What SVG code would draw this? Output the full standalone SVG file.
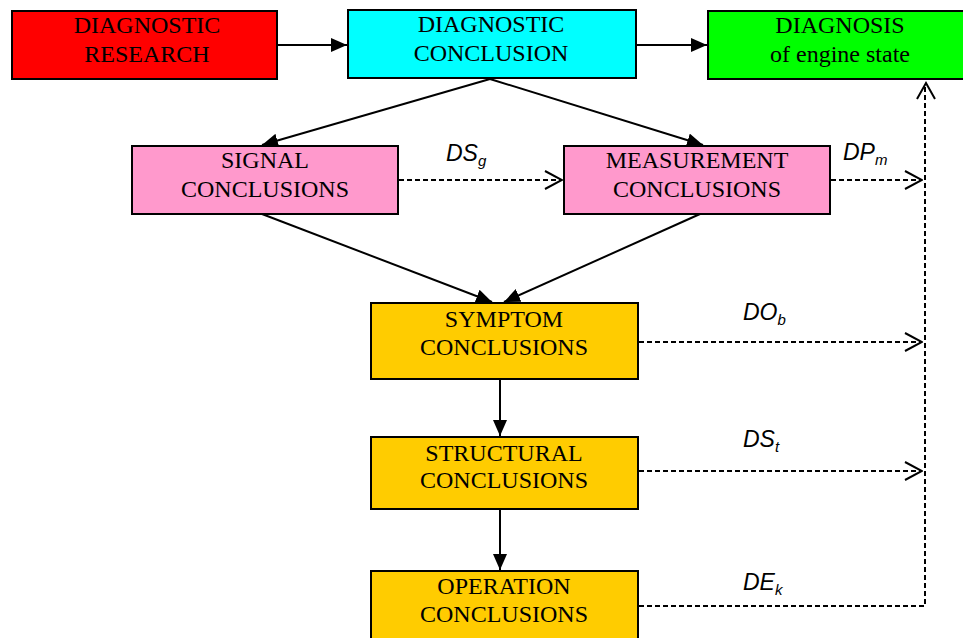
<svg xmlns="http://www.w3.org/2000/svg" width="963" height="638" viewBox="0 0 963 638">
<defs>
<style>
.box{stroke:#000;stroke-width:2}
.t{font-family:"Liberation Serif","Times New Roman",serif;font-size:24px;text-anchor:middle;fill:#000}
.lbl{font-family:"Liberation Sans",Arial,sans-serif;font-size:23px;font-style:italic;fill:#000}
.sub{font-size:15px}
.solid{stroke:#000;stroke-width:2;fill:none;marker-end:url(#ah)}
.dash{stroke:#000;stroke-width:2;fill:none;stroke-dasharray:5 3}
.dashA{stroke:#000;stroke-width:2;fill:none;stroke-dasharray:5 3;marker-end:url(#oh)}
</style>
<marker id="ah" viewBox="0 0 16 14" refX="16" refY="7" markerWidth="16" markerHeight="14" markerUnits="userSpaceOnUse" orient="auto">
<path d="M0,0 L16,7 L0,14 Z" fill="#000"/>
</marker>
<marker id="oh" viewBox="0 0 20 20" refX="19" refY="10" markerWidth="20" markerHeight="20" markerUnits="userSpaceOnUse" orient="auto">
<path d="M2,1 L19,10 L2,19" fill="none" stroke="#000" stroke-width="2"/>
</marker>
</defs>
<rect width="963" height="638" fill="#fff"/>

<g id="connectors">
<line class="solid" x1="278" y1="45" x2="347" y2="45"/>
<line class="solid" x1="636" y1="45" x2="707" y2="45"/>
<line class="solid" x1="490" y1="79" x2="262" y2="145"/>
<line class="solid" x1="490" y1="79" x2="703" y2="145"/>
<line class="solid" x1="262" y1="214" x2="492" y2="302"/>
<line class="solid" x1="700" y1="214" x2="504" y2="302"/>
<line class="solid" x1="500" y1="379" x2="500" y2="436"/>
<line class="solid" x1="500" y1="509" x2="500" y2="570"/>
<line class="dashA" x1="399" y1="180" x2="562" y2="180"/>
<line class="dashA" x1="831" y1="180" x2="922" y2="180"/>
<line class="dashA" x1="639" y1="342" x2="922" y2="342"/>
<line class="dashA" x1="639" y1="471" x2="922" y2="471"/>
<polyline class="dash" points="639,606 925,606 925,86"/>
<path d="M917,99 L926,83 L935,99" fill="none" stroke="#000" stroke-width="2"/>
<text class="lbl" x="446" y="161">DS<tspan class="sub" dy="5">g</tspan></text>
<text class="lbl" x="843" y="160">DP<tspan class="sub" dy="5">m</tspan></text>
<text class="lbl" x="743" y="320">DO<tspan class="sub" dy="5">b</tspan></text>
<text class="lbl" x="743" y="447">DS<tspan class="sub" dy="5">t</tspan></text>
<text class="lbl" x="743" y="590">DE<tspan class="sub" dy="5">k</tspan></text>
</g>

<g id="research">
<rect class="box" x="12" y="11" width="265" height="68" fill="#FF0000"/>
<text class="t" x="147" y="33">DIAGNOSTIC</text>
<text class="t" x="147" y="62">RESEARCH</text>
</g>
<g id="conclusion">
<rect class="box" x="348" y="10" width="288" height="68" fill="#00FFFF"/>
<text class="t" x="491" y="32">DIAGNOSTIC</text>
<text class="t" x="491" y="61">CONCLUSION</text>
</g>
<g id="diagnosis">
<rect class="box" x="708" y="11" width="262" height="68" fill="#00FF00"/>
<text class="t" x="840" y="33">DIAGNOSIS</text>
<text class="t" x="840" y="62">of engine state</text>
</g>
<g id="signal">
<rect class="box" x="132" y="146" width="266" height="68" fill="#FF99CC"/>
<text class="t" x="265" y="168">SIGNAL</text>
<text class="t" x="265" y="197">CONCLUSIONS</text>
</g>
<g id="measurement">
<rect class="box" x="564" y="146" width="266" height="68" fill="#FF99CC"/>
<text class="t" x="697" y="168">MEASUREMENT</text>
<text class="t" x="697" y="197">CONCLUSIONS</text>
</g>
<g id="symptom">
<rect class="box" x="371" y="303" width="267" height="76" fill="#FFCC00"/>
<text class="t" x="504" y="327">SYMPTOM</text>
<text class="t" x="504" y="355">CONCLUSIONS</text>
</g>
<g id="structural">
<rect class="box" x="371" y="437" width="267" height="72" fill="#FFCC00"/>
<text class="t" x="504" y="461">STRUCTURAL</text>
<text class="t" x="504" y="488">CONCLUSIONS</text>
</g>
<g id="operation">
<rect class="box" x="371" y="571" width="267" height="76" fill="#FFCC00"/>
<text class="t" x="504" y="594">OPERATION</text>
<text class="t" x="504" y="622">CONCLUSIONS</text>
</g>
</svg>
